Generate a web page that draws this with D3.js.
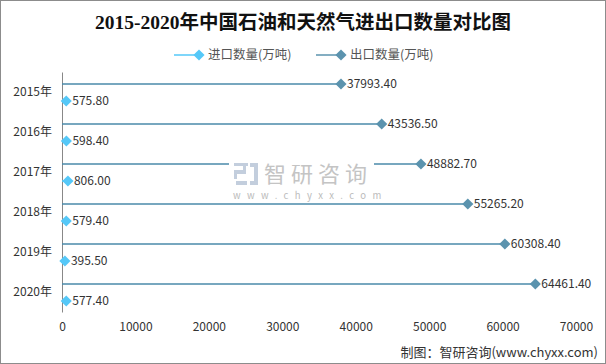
<!DOCTYPE html>
<html>
<head>
<meta charset="utf-8">
<script src="https://cdn.jsdelivr.net/npm/d3@7"></script>
<style>
  body { margin: 0; background: #fff; }
  svg { display: block; }
</style>
</head>
<body>
<svg width="606" height="364"></svg>
<script>
const years = ["2015年", "2016年", "2017年", "2018年", "2019年", "2020年"];
const importVals = [575.8, 598.4, 806.0, 579.4, 395.5, 577.4];
const exportVals = [37993.4, 43536.5, 48882.7, 55265.2, 60308.4, 64461.4];
const xTicks = [0, 10000, 20000, 30000, 40000, 50000, 60000, 70000];

const importColor = "#55c8f8";
const exportColor = "#5b93ae";
const font = "'Microsoft YaHei', 'Noto Sans CJK SC', sans-serif";

const svg = d3.select("svg");

svg.append("rect")
  .attr("x", 0.5).attr("y", 0.5)
  .attr("width", 605).attr("height", 363)
  .attr("fill", "#fff").attr("stroke", "#8c8c8c");

// title
svg.append("text")
  .attr("x", 303).attr("y", 29)
  .attr("text-anchor", "middle")
  .attr("font-family", "'Liberation Serif', 'Noto Sans CJK SC', serif")
  .attr("font-weight", "bold")
  .attr("font-size", 19.5)
  .attr("fill", "#111")
  .text("2015-2020年中国石油和天然气进出口数量对比图");

const x = d3.scaleLinear().domain([0, 70000]).range([62, 576]);
const y = d3.scaleBand().domain(years).range([72, 312]);
const diamond = d3.symbol(d3.symbolSquare, 62);

// x axis labels (no line)
const xAxis = svg.append("g")
  .attr("transform", "translate(0,318)")
  .call(d3.axisBottom(x).tickValues(xTicks).tickSize(0).tickPadding(4).tickFormat(d3.format("d")));
xAxis.select(".domain").remove();
xAxis.selectAll("text")
  .attr("font-family", font).attr("font-size", 12).attr("fill", "#333");

// y axis
const yAxis = svg.append("g")
  .attr("transform", "translate(62,0)")
  .call(d3.axisLeft(y).tickSize(0).tickPadding(10));
yAxis.select(".domain").attr("stroke", "#888");
yAxis.selectAll("text")
  .attr("font-family", font).attr("font-size", 12).attr("fill", "#333");

const rows = years.map((yr, i) => ({ yr, imp: importVals[i], exp: exportVals[i] }));
const cy = d => y(d.yr) + y.bandwidth() / 2;

// export series
svg.selectAll(".exp-line").data(rows).enter().append("line")
  .attr("x1", x(0)).attr("x2", d => x(d.exp))
  .attr("y1", d => cy(d) - 8).attr("y2", d => cy(d) - 8)
  .attr("stroke", "#4a8aaa").attr("stroke-width", 1.5);

// import series
svg.selectAll(".imp-line").data(rows).enter().append("line")
  .attr("x1", x(0)).attr("x2", d => x(d.imp))
  .attr("y1", d => cy(d) + 9).attr("y2", d => cy(d) + 9)
  .attr("stroke", importColor).attr("stroke-width", 1.5);

// watermark (covers lines behind it)
const wm = svg.append("g");
wm.append("rect").attr("x", 229).attr("y", 157).attr("width", 145).attr("height", 43).attr("fill", "#fff");
wm.append("path")
  .attr("d", "M234,163h14v3h-2v8h-9v5h-3v-9h9v-4h-9z M236,181h11v4h-11z M250,163h8v22h-8v-4h4v-14h-4z")
  .attr("fill", "#c3cedd");
wm.append("text")
  .attr("x", 264).attr("y", 182)
  .attr("font-family", font).attr("font-size", 22)
  .attr("fill", "#c4c4c4").attr("letter-spacing", 5)
  .text("智研咨询");
wm.append("text")
  .attr("x", 233).attr("y", 199)
  .attr("font-family", font).attr("font-size", 9.5)
  .attr("fill", "#bbb").attr("letter-spacing", 6.4)
  .text("www.chyxx.com");

// markers and labels
svg.selectAll(".exp-dot").data(rows).enter().append("path")
  .attr("d", diamond)
  .attr("transform", d => `translate(${x(d.exp)},${cy(d) - 8}) rotate(45)`)
  .attr("fill", exportColor);
svg.selectAll(".imp-dot").data(rows).enter().append("path")
  .attr("d", diamond)
  .attr("transform", d => `translate(${x(d.imp)},${cy(d) + 9}) rotate(45)`)
  .attr("fill", importColor);

svg.selectAll(".exp-lab").data(rows).enter().append("text")
  .attr("x", d => x(d.exp) + 6).attr("y", d => cy(d) - 8)
  .attr("dy", "0.35em")
  .attr("font-family", font).attr("font-size", 12).attr("fill", "#333")
  .text(d => d.exp.toFixed(2));
svg.selectAll(".imp-lab").data(rows).enter().append("text")
  .attr("x", d => x(d.imp) + 6).attr("y", d => cy(d) + 9)
  .attr("dy", "0.35em")
  .attr("font-family", font).attr("font-size", 12).attr("fill", "#333")
  .text(d => d.imp.toFixed(2));

// legend
const legend = [
  { name: "进口数量(万吨)", color: importColor, x: 174 },
  { name: "出口数量(万吨)", color: exportColor, x: 316 }
];
const lg = svg.selectAll(".lg").data(legend).enter().append("g")
  .attr("transform", d => `translate(${d.x},55)`);
lg.append("line").attr("x1", 0).attr("x2", 24).attr("stroke", d => d.color).attr("stroke-width", 1.5);
lg.append("path").attr("d", diamond).attr("transform", "translate(25,0) rotate(45)").attr("fill", d => d.color);
lg.append("text")
  .attr("x", 34).attr("dy", "0.35em")
  .attr("font-family", font).attr("font-size", 12.5).attr("fill", "#555")
  .text(d => d.name);

// source
svg.append("text")
  .attr("x", 598).attr("y", 357)
  .attr("text-anchor", "end")
  .attr("font-family", font).attr("font-size", 13).attr("fill", "#333")
  .text("制图：智研咨询(www.chyxx.com)");
</script>
</body>
</html>
